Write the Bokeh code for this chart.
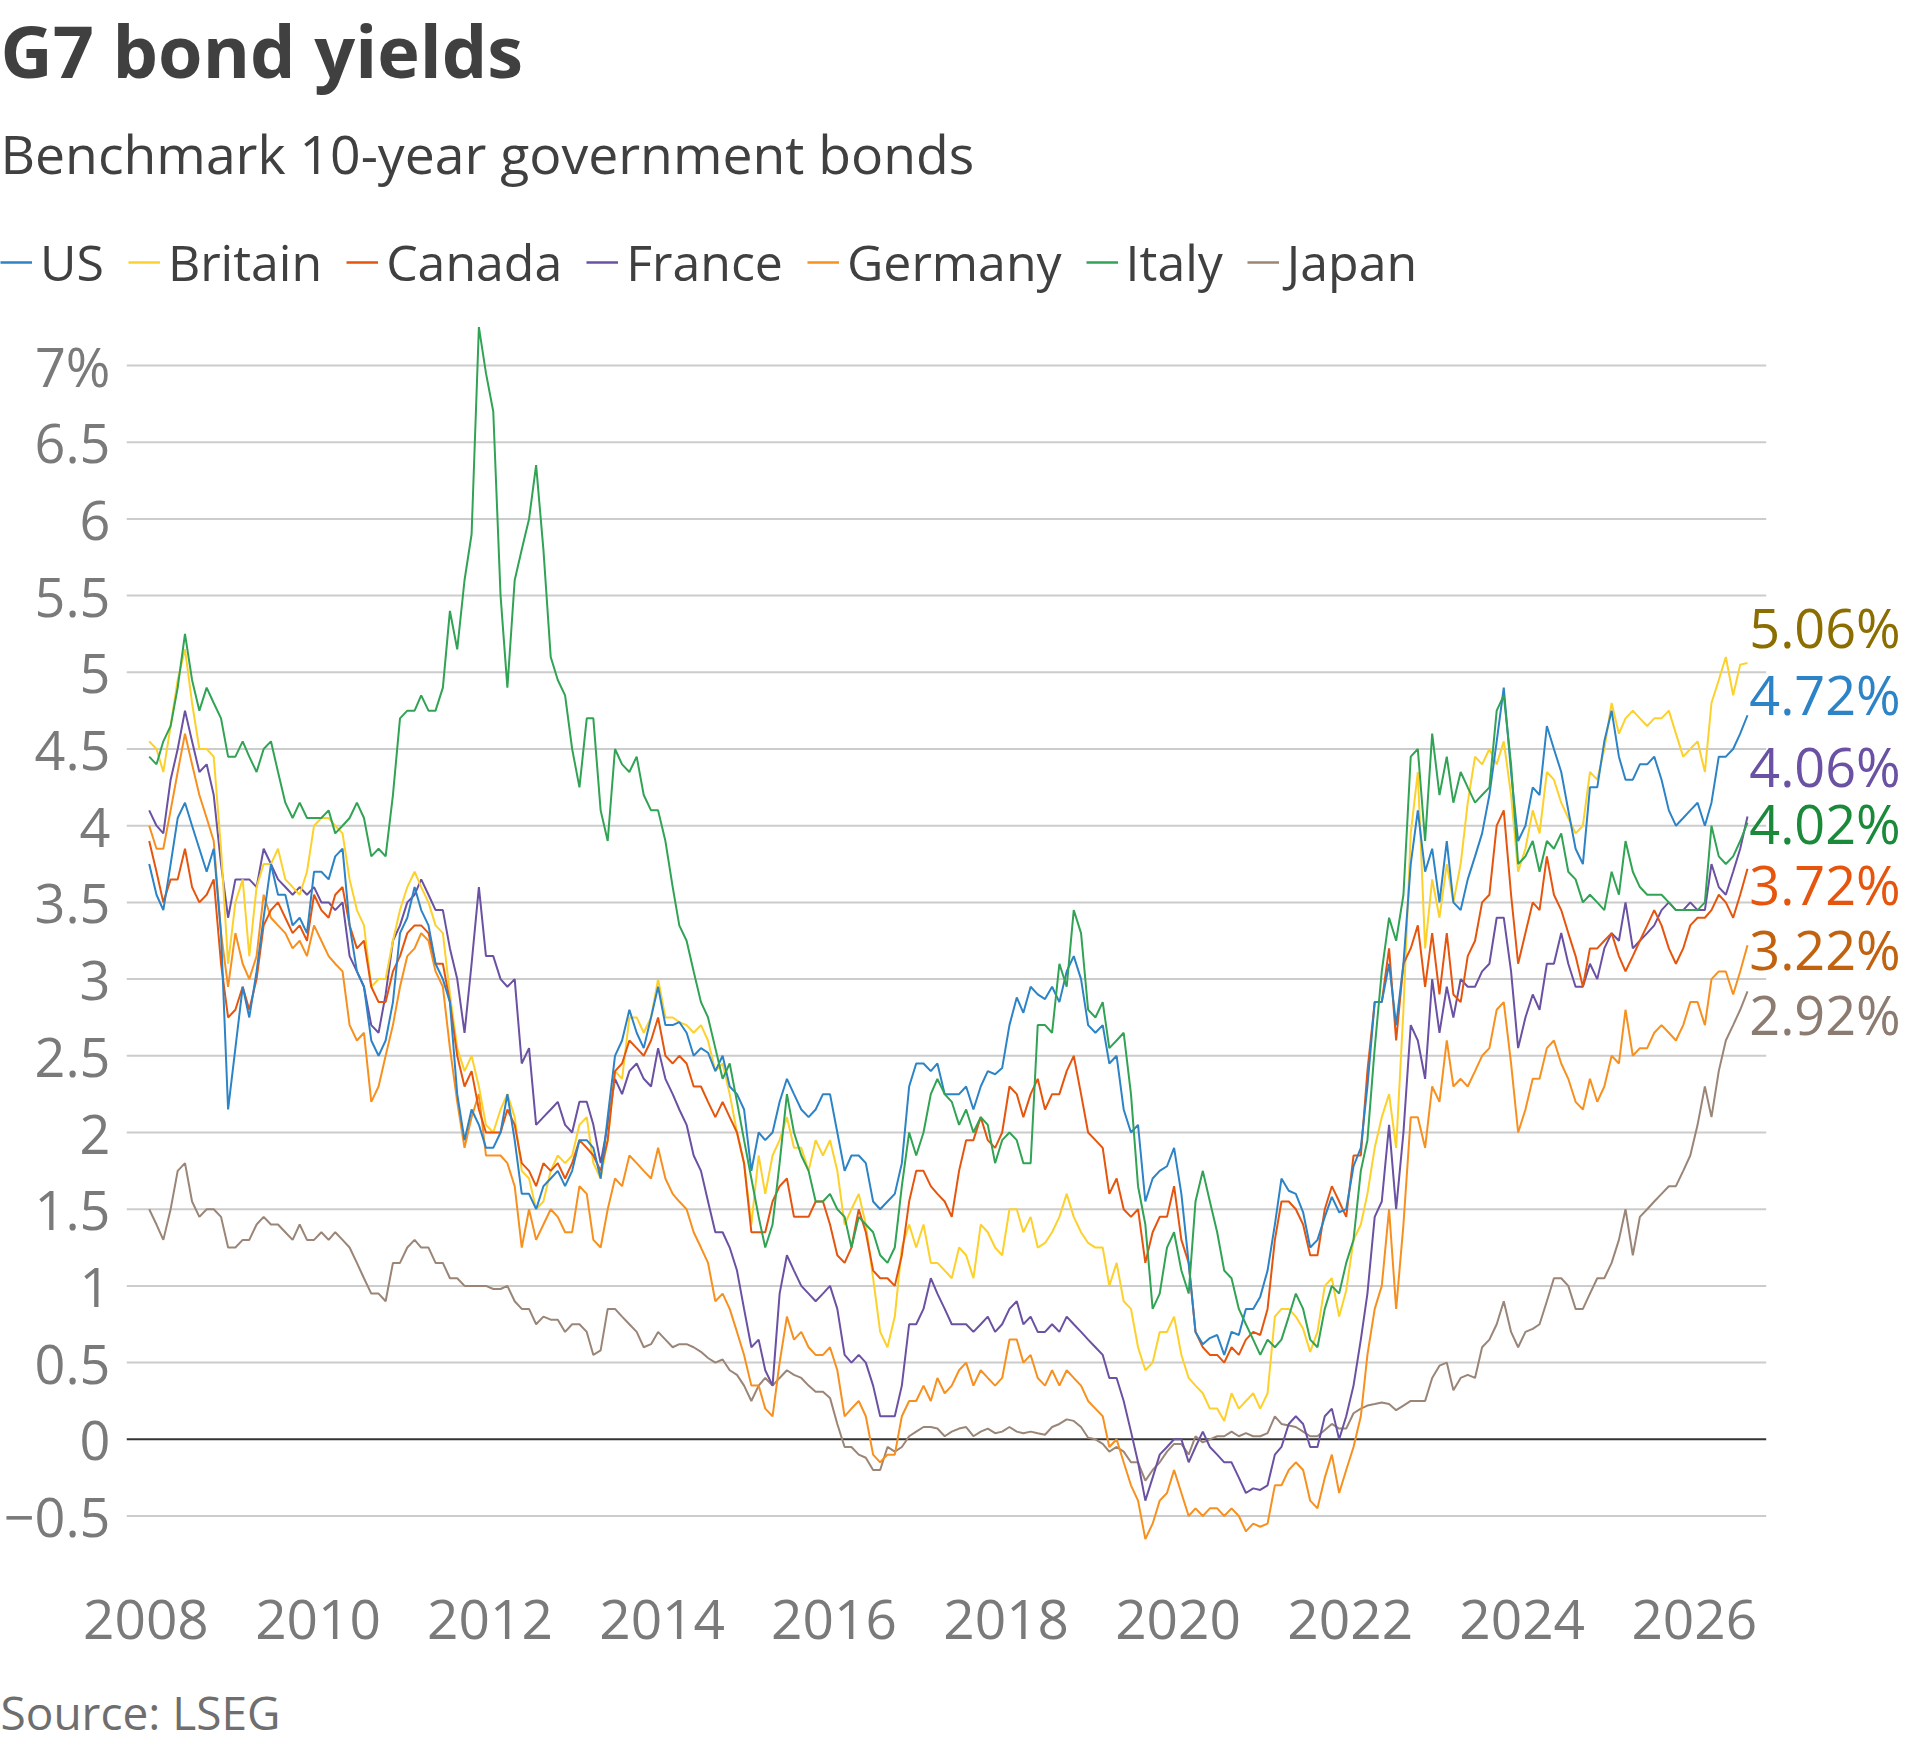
import pandas as pd
from bokeh.plotting import figure
from bokeh.layouts import column
from bokeh.models import (ColumnDataSource, Range1d, FixedTicker, DatetimeTickFormatter,
                          Legend, LegendItem, Label)
from bokeh.embed import file_html
from bokeh.resources import INLINE

# mid-month readings, Jan 2008 .. Aug 2026
months = pd.date_range("2008-01-01", "2026-08-01", freq="MS") + pd.Timedelta(days=14)

us = [
    3.75, 3.55, 3.45, 3.75, 4.05, 4.15, 4.00, 3.85, 3.70, 3.85, 3.30, 2.15,  # 2008
    2.55, 2.95, 2.75, 3.05, 3.40, 3.75, 3.55, 3.55, 3.35, 3.40, 3.30, 3.70,  # 2009
    3.70, 3.65, 3.80, 3.85, 3.35, 3.05, 2.95, 2.60, 2.50, 2.60, 2.85, 3.30,  # 2010
    3.40, 3.60, 3.45, 3.35, 3.10, 3.00, 2.85, 2.25, 1.95, 2.15, 2.05, 1.90,  # 2011
    1.90, 2.00, 2.25, 1.95, 1.60, 1.60, 1.50, 1.65, 1.70, 1.75, 1.65, 1.75,  # 2012
    1.95, 1.95, 1.90, 1.70, 2.10, 2.50, 2.60, 2.80, 2.65, 2.55, 2.75, 2.95,  # 2013
    2.70, 2.70, 2.72, 2.65, 2.50, 2.55, 2.52, 2.40, 2.50, 2.30, 2.25, 2.15,  # 2014
    1.75, 2.00, 1.95, 2.00, 2.20, 2.35, 2.25, 2.15, 2.10, 2.15, 2.25, 2.25,  # 2015
    2.00, 1.75, 1.85, 1.85, 1.80, 1.55, 1.50, 1.55, 1.60, 1.80, 2.30, 2.45,  # 2016
    2.45, 2.40, 2.45, 2.25, 2.25, 2.25, 2.30, 2.15, 2.30, 2.40, 2.38, 2.42,  # 2017
    2.70, 2.88, 2.78, 2.95, 2.90, 2.87, 2.95, 2.85, 3.05, 3.15, 3.00, 2.70,  # 2018
    2.65, 2.70, 2.45, 2.50, 2.15, 2.00, 2.05, 1.55, 1.70, 1.75, 1.78, 1.90,  # 2019
    1.60, 1.15, 0.70, 0.62, 0.66, 0.68, 0.55, 0.70, 0.68, 0.85, 0.85, 0.93,  # 2020
    1.10, 1.40, 1.70, 1.62, 1.60, 1.48, 1.25, 1.30, 1.45, 1.58, 1.48, 1.50,  # 2021
    1.78, 1.90, 2.30, 2.85, 2.85, 3.10, 2.70, 3.10, 3.75, 4.10, 3.70, 3.85,  # 2022
    3.50, 3.90, 3.50, 3.45, 3.65, 3.80, 3.95, 4.20, 4.55, 4.90, 4.35, 3.90,  # 2023
    4.00, 4.25, 4.20, 4.65, 4.50, 4.35, 4.10, 3.85, 3.75, 4.25, 4.25, 4.55,  # 2024
    4.75, 4.45, 4.30, 4.30, 4.40, 4.40, 4.45, 4.30, 4.10, 4.00, 4.05, 4.10,  # 2025
    4.15, 4.00, 4.15, 4.45, 4.45, 4.50, 4.60, 4.72,                          # 2026
]

britain = [
    4.55, 4.50, 4.35, 4.65, 4.95, 5.15, 4.80, 4.50, 4.50, 4.45, 3.85, 3.10,
    3.50, 3.65, 3.15, 3.60, 3.75, 3.75, 3.85, 3.65, 3.60, 3.55, 3.70, 4.00,
    4.05, 4.05, 4.00, 3.95, 3.65, 3.45, 3.35, 2.95, 3.00, 3.00, 3.25, 3.45,
    3.60, 3.70, 3.60, 3.50, 3.35, 3.30, 2.90, 2.55, 2.40, 2.50, 2.30, 2.05,
    2.00, 2.15, 2.25, 2.10, 1.75, 1.70, 1.50, 1.55, 1.75, 1.85, 1.80, 1.85,
    2.05, 2.10, 1.80, 1.70, 1.95, 2.40, 2.35, 2.75, 2.75, 2.65, 2.75, 3.00,
    2.75, 2.75, 2.72, 2.70, 2.65, 2.70, 2.60, 2.40, 2.45, 2.25, 2.00, 1.80,
    1.40, 1.85, 1.60, 1.85, 1.95, 2.10, 1.90, 1.90, 1.75, 1.95, 1.85, 1.95,
    1.75, 1.40, 1.50, 1.60, 1.40, 1.05, 0.70, 0.60, 0.80, 1.25, 1.40, 1.25,
    1.40, 1.15, 1.15, 1.10, 1.05, 1.25, 1.20, 1.05, 1.40, 1.35, 1.25, 1.20,
    1.50, 1.50, 1.35, 1.45, 1.25, 1.28, 1.35, 1.45, 1.60, 1.45, 1.35, 1.28,
    1.25, 1.25, 1.00, 1.15, 0.90, 0.85, 0.60, 0.45, 0.50, 0.70, 0.70, 0.80,
    0.55, 0.40, 0.35, 0.30, 0.20, 0.20, 0.12, 0.30, 0.20, 0.25, 0.30, 0.20,
    0.30, 0.80, 0.85, 0.85, 0.80, 0.72, 0.57, 0.70, 1.00, 1.05, 0.80, 0.97,
    1.30, 1.40, 1.60, 1.90, 2.10, 2.25, 1.90, 2.80, 3.95, 4.35, 3.20, 3.65,
    3.40, 3.75, 3.50, 3.75, 4.15, 4.45, 4.40, 4.50, 4.40, 4.55, 4.20, 3.70,
    3.85, 4.10, 3.95, 4.35, 4.30, 4.15, 4.05, 3.95, 4.00, 4.35, 4.30, 4.50,
    4.80, 4.60, 4.70, 4.75, 4.70, 4.65, 4.70, 4.70, 4.75, 4.60, 4.45, 4.50,
    4.55, 4.35, 4.80, 4.95, 5.10, 4.85, 5.05, 5.06,
]

canada = [
    3.90, 3.70, 3.50, 3.65, 3.65, 3.85, 3.60, 3.50, 3.55, 3.65, 3.10, 2.75,
    2.80, 2.95, 2.80, 3.00, 3.35, 3.45, 3.50, 3.40, 3.30, 3.35, 3.25, 3.55,
    3.45, 3.40, 3.55, 3.60, 3.35, 3.20, 3.25, 2.95, 2.85, 2.85, 3.05, 3.15,
    3.30, 3.35, 3.35, 3.30, 3.10, 3.10, 2.85, 2.50, 2.30, 2.40, 2.15, 2.00,
    2.00, 2.00, 2.15, 2.05, 1.80, 1.75, 1.65, 1.80, 1.75, 1.80, 1.70, 1.80,
    1.95, 1.90, 1.85, 1.75, 1.95, 2.40, 2.45, 2.60, 2.55, 2.50, 2.60, 2.75,
    2.50, 2.45, 2.50, 2.45, 2.30, 2.30, 2.20, 2.10, 2.20, 2.10, 2.00, 1.80,
    1.35, 1.35, 1.35, 1.55, 1.65, 1.70, 1.45, 1.45, 1.45, 1.55, 1.55, 1.40,
    1.20, 1.15, 1.25, 1.50, 1.35, 1.10, 1.05, 1.05, 1.00, 1.20, 1.55, 1.75,
    1.75, 1.65, 1.60, 1.55, 1.45, 1.75, 1.95, 1.95, 2.10, 1.95, 1.90, 2.00,
    2.30, 2.25, 2.10, 2.25, 2.35, 2.15, 2.25, 2.25, 2.40, 2.50, 2.25, 2.00,
    1.95, 1.90, 1.60, 1.70, 1.50, 1.45, 1.50, 1.15, 1.35, 1.45, 1.45, 1.65,
    1.30, 1.15, 0.70, 0.60, 0.55, 0.55, 0.50, 0.60, 0.55, 0.65, 0.70, 0.68,
    0.85, 1.30, 1.55, 1.55, 1.50, 1.40, 1.20, 1.20, 1.50, 1.65, 1.55, 1.45,
    1.85, 1.85, 2.40, 2.85, 2.85, 3.20, 2.60, 3.10, 3.20, 3.35, 2.95, 3.30,
    2.90, 3.30, 2.90, 2.85, 3.15, 3.25, 3.50, 3.55, 4.00, 4.10, 3.55, 3.10,
    3.30, 3.50, 3.45, 3.80, 3.55, 3.45, 3.30, 3.15, 2.95, 3.20, 3.20, 3.25,
    3.30, 3.15, 3.05, 3.15, 3.25, 3.35, 3.45, 3.35, 3.20, 3.10, 3.20, 3.35,
    3.40, 3.40, 3.45, 3.55, 3.50, 3.40, 3.55, 3.72,
]

france = [
    4.10, 4.00, 3.95, 4.30, 4.50, 4.75, 4.55, 4.35, 4.40, 4.20, 3.75, 3.40,
    3.65, 3.65, 3.65, 3.60, 3.85, 3.75, 3.65, 3.60, 3.55, 3.60, 3.55, 3.60,
    3.50, 3.50, 3.45, 3.50, 3.15, 3.05, 2.95, 2.70, 2.65, 2.90, 3.25, 3.35,
    3.50, 3.55, 3.65, 3.55, 3.45, 3.45, 3.20, 3.00, 2.65, 3.10, 3.60, 3.15,
    3.15, 3.00, 2.95, 3.00, 2.45, 2.55, 2.05, 2.10, 2.15, 2.20, 2.05, 2.00,
    2.20, 2.20, 2.05, 1.80, 2.05, 2.35, 2.25, 2.40, 2.45, 2.35, 2.30, 2.55,
    2.35, 2.25, 2.15, 2.05, 1.85, 1.75, 1.55, 1.35, 1.35, 1.25, 1.10, 0.85,
    0.60, 0.65, 0.45, 0.35, 0.95, 1.20, 1.10, 1.00, 0.95, 0.90, 0.95, 1.00,
    0.85, 0.55, 0.50, 0.55, 0.50, 0.35, 0.15, 0.15, 0.15, 0.35, 0.75, 0.75,
    0.85, 1.05, 0.95, 0.85, 0.75, 0.75, 0.75, 0.70, 0.75, 0.80, 0.70, 0.75,
    0.85, 0.90, 0.75, 0.80, 0.70, 0.70, 0.75, 0.70, 0.80, 0.75, 0.70, 0.65,
    0.60, 0.55, 0.40, 0.40, 0.25, 0.05, -0.15, -0.40, -0.25, -0.10, -0.05, 0.00,
    0.00, -0.15, -0.05, 0.05, -0.05, -0.10, -0.15, -0.15, -0.25, -0.35, -0.32, -0.33,
    -0.30, -0.10, -0.05, 0.10, 0.15, 0.10, -0.05, -0.05, 0.15, 0.20, 0.00, 0.15,
    0.35, 0.65, 0.95, 1.45, 1.55, 2.05, 1.50, 2.00, 2.70, 2.60, 2.35, 3.00,
    2.65, 2.95, 2.75, 3.00, 2.95, 2.95, 3.05, 3.10, 3.40, 3.40, 3.05, 2.55,
    2.75, 2.90, 2.80, 3.10, 3.10, 3.30, 3.10, 2.95, 2.95, 3.10, 3.00, 3.20,
    3.30, 3.25, 3.50, 3.20, 3.25, 3.30, 3.35, 3.45, 3.50, 3.45, 3.45, 3.50,
    3.45, 3.45, 3.75, 3.60, 3.55, 3.70, 3.85, 4.06,
]

germany = [
    4.00, 3.85, 3.85, 4.10, 4.35, 4.60, 4.40, 4.20, 4.05, 3.90, 3.30, 2.95,
    3.30, 3.10, 3.00, 3.15, 3.55, 3.40, 3.35, 3.30, 3.20, 3.25, 3.15, 3.35,
    3.25, 3.15, 3.10, 3.05, 2.70, 2.60, 2.65, 2.20, 2.30, 2.50, 2.70, 2.95,
    3.15, 3.20, 3.30, 3.25, 3.05, 2.95, 2.55, 2.20, 1.90, 2.10, 2.25, 1.85,
    1.85, 1.85, 1.80, 1.65, 1.25, 1.50, 1.30, 1.40, 1.50, 1.45, 1.35, 1.35,
    1.65, 1.60, 1.30, 1.25, 1.50, 1.70, 1.65, 1.85, 1.80, 1.75, 1.70, 1.90,
    1.70, 1.60, 1.55, 1.50, 1.35, 1.25, 1.15, 0.90, 0.95, 0.85, 0.70, 0.55,
    0.35, 0.35, 0.20, 0.15, 0.50, 0.80, 0.65, 0.70, 0.60, 0.55, 0.55, 0.60,
    0.45, 0.15, 0.20, 0.25, 0.15, -0.10, -0.15, -0.10, -0.10, 0.15, 0.25, 0.25,
    0.35, 0.25, 0.40, 0.30, 0.35, 0.45, 0.50, 0.35, 0.45, 0.40, 0.35, 0.40,
    0.65, 0.65, 0.50, 0.55, 0.40, 0.35, 0.45, 0.35, 0.45, 0.40, 0.35, 0.25,
    0.20, 0.15, -0.05, 0.00, -0.15, -0.30, -0.40, -0.65, -0.55, -0.40, -0.35, -0.20,
    -0.35, -0.50, -0.45, -0.50, -0.45, -0.45, -0.50, -0.45, -0.50, -0.60, -0.55, -0.57,
    -0.55, -0.30, -0.30, -0.20, -0.15, -0.20, -0.40, -0.45, -0.25, -0.10, -0.35, -0.20,
    -0.05, 0.15, 0.55, 0.85, 1.00, 1.50, 0.85, 1.40, 2.10, 2.10, 1.90, 2.30,
    2.20, 2.60, 2.30, 2.35, 2.30, 2.40, 2.50, 2.55, 2.80, 2.85, 2.45, 2.00,
    2.15, 2.35, 2.35, 2.55, 2.60, 2.45, 2.35, 2.20, 2.15, 2.35, 2.20, 2.30,
    2.50, 2.45, 2.80, 2.50, 2.55, 2.55, 2.65, 2.70, 2.65, 2.60, 2.70, 2.85,
    2.85, 2.70, 3.00, 3.05, 3.05, 2.90, 3.05, 3.22,
]

italy = [
    4.45, 4.40, 4.55, 4.65, 4.90, 5.25, 4.95, 4.75, 4.90, 4.80, 4.70, 4.45,
    4.45, 4.55, 4.45, 4.35, 4.50, 4.55, 4.35, 4.15, 4.05, 4.15, 4.05, 4.05,
    4.05, 4.10, 3.95, 4.00, 4.05, 4.15, 4.05, 3.80, 3.85, 3.80, 4.20, 4.70,
    4.75, 4.75, 4.85, 4.75, 4.75, 4.90, 5.40, 5.15, 5.60, 5.90, 7.25, 6.95,
    6.70, 5.50, 4.90, 5.60, 5.80, 6.00, 6.35, 5.80, 5.10, 4.95, 4.85, 4.50,
    4.25, 4.70, 4.70, 4.10, 3.90, 4.50, 4.40, 4.35, 4.45, 4.20, 4.10, 4.10,
    3.90, 3.60, 3.35, 3.25, 3.05, 2.85, 2.75, 2.55, 2.35, 2.45, 2.20, 1.95,
    1.70, 1.45, 1.25, 1.40, 1.80, 2.25, 2.00, 1.85, 1.75, 1.55, 1.55, 1.60,
    1.50, 1.45, 1.25, 1.45, 1.40, 1.35, 1.20, 1.15, 1.25, 1.65, 2.00, 1.85,
    2.00, 2.25, 2.35, 2.25, 2.20, 2.05, 2.15, 2.00, 2.10, 2.05, 1.80, 1.95,
    2.00, 1.95, 1.80, 1.80, 2.70, 2.70, 2.65, 3.10, 2.95, 3.45, 3.30, 2.80,
    2.75, 2.85, 2.55, 2.60, 2.65, 2.25, 1.65, 1.40, 0.85, 0.95, 1.25, 1.35,
    1.10, 0.95, 1.55, 1.75, 1.55, 1.35, 1.10, 1.05, 0.85, 0.75, 0.65, 0.55,
    0.65, 0.60, 0.65, 0.80, 0.95, 0.85, 0.65, 0.60, 0.85, 1.00, 0.95, 1.15,
    1.30, 1.75, 1.95, 2.55, 3.05, 3.40, 3.25, 3.55, 4.45, 4.50, 3.90, 4.60,
    4.20, 4.45, 4.15, 4.35, 4.25, 4.15, 4.20, 4.25, 4.75, 4.85, 4.40, 3.75,
    3.80, 3.90, 3.70, 3.90, 3.85, 3.95, 3.70, 3.65, 3.50, 3.55, 3.50, 3.45,
    3.70, 3.55, 3.90, 3.70, 3.60, 3.55, 3.55, 3.55, 3.50, 3.45, 3.45, 3.45,
    3.45, 3.50, 4.00, 3.80, 3.75, 3.80, 3.90, 4.02,
]

japan = [
    1.50, 1.40, 1.30, 1.50, 1.75, 1.80, 1.55, 1.45, 1.50, 1.50, 1.45, 1.25,
    1.25, 1.30, 1.30, 1.40, 1.45, 1.40, 1.40, 1.35, 1.30, 1.40, 1.30, 1.30,
    1.35, 1.30, 1.35, 1.30, 1.25, 1.15, 1.05, 0.95, 0.95, 0.90, 1.15, 1.15,
    1.25, 1.30, 1.25, 1.25, 1.15, 1.15, 1.05, 1.05, 1.00, 1.00, 1.00, 1.00,
    0.98, 0.98, 1.00, 0.90, 0.85, 0.85, 0.75, 0.80, 0.78, 0.78, 0.70, 0.75,
    0.75, 0.70, 0.55, 0.58, 0.85, 0.85, 0.80, 0.75, 0.70, 0.60, 0.62, 0.70,
    0.65, 0.60, 0.62, 0.62, 0.60, 0.57, 0.53, 0.50, 0.52, 0.45, 0.42, 0.35,
    0.25, 0.35, 0.40, 0.35, 0.40, 0.45, 0.42, 0.40, 0.35, 0.31, 0.31, 0.27,
    0.10, -0.05, -0.05, -0.10, -0.12, -0.20, -0.20, -0.05, -0.08, -0.05, 0.02, 0.05,
    0.08, 0.08, 0.07, 0.02, 0.05, 0.07, 0.08, 0.02, 0.05, 0.07, 0.04, 0.05,
    0.08, 0.05, 0.04, 0.05, 0.04, 0.03, 0.08, 0.10, 0.13, 0.12, 0.08, 0.01,
    0.00, -0.03, -0.08, -0.05, -0.08, -0.15, -0.15, -0.27, -0.20, -0.15, -0.08, -0.03,
    -0.03, -0.10, 0.02, -0.02, 0.00, 0.02, 0.02, 0.05, 0.02, 0.04, 0.02, 0.02,
    0.04, 0.15, 0.10, 0.09, 0.08, 0.05, 0.02, 0.02, 0.06, 0.10, 0.07, 0.07,
    0.17, 0.20, 0.22, 0.23, 0.24, 0.23, 0.19, 0.22, 0.25, 0.25, 0.25, 0.40,
    0.48, 0.50, 0.32, 0.40, 0.42, 0.40, 0.60, 0.65, 0.75, 0.90, 0.70, 0.60,
    0.70, 0.72, 0.75, 0.90, 1.05, 1.05, 1.00, 0.85, 0.85, 0.95, 1.05, 1.05,
    1.15, 1.30, 1.50, 1.20, 1.45, 1.50, 1.55, 1.60, 1.65, 1.65, 1.75, 1.85,
    2.05, 2.30, 2.10, 2.40, 2.60, 2.70, 2.80, 2.92,
]

series_names = ["US", "Britain", "Canada", "France", "Germany", "Italy", "Japan"]
series_values = [us, britain, canada, france, germany, italy, japan]
line_colors = ["#2c83c6", "#fdd12b", "#e6550d", "#6a51a3", "#f7901e", "#31a354", "#9a8577"]
end_label_colors = ["#2c83c6", "#8c6d00", "#e6550d", "#6a51a3", "#c0620f", "#1a8a3a", "#8b7b70"]
draw_order = ["Japan", "Germany", "France", "Britain", "Canada", "US", "Italy"]

y_ticks = [-0.5, 0, 0.5, 1, 1.5, 2, 2.5, 3, 3.5, 4, 4.5, 5, 5.5, 6, 6.5, 7]
y_tick_labels = ["\u22120.5", "0", "0.5", "1", "1.5", "2", "2.5", "3", "3.5",
                 "4", "4.5", "5", "5.5", "6", "6.5", "7%"]
year_ticks = list(range(2008, 2027, 2))

# page geometry (pixels)
W = 1904
HEAD_H = 300                 # header strip: title, subtitle, legend
FRAME_L, FRAME_B = 117, 1585 # chart frame left edge / bottom edge on the page
MAIN_B = 85                  # room under the frame for the year labels
FOOT_H = 72
X2008, PX_YEAR = 136.5, 86.45
Y0, PX_PCT = 1438.8, 153.4


def year_at(px):
    return 2008 + (px - X2008) / PX_YEAR


def to_ms(year):
    return (pd.Timestamp("2008-01-01") + pd.Timedelta(days=365.25 * (year - 2008))).value / 1e6


def pct_at(py):
    return (Y0 - py) / PX_PCT


def text_strip(height):
    f = figure(width=W, height=height, x_range=Range1d(0, W), y_range=Range1d(height, 0),
               x_axis_location=None, y_axis_location=None, min_border=0,
               output_backend="svg", toolbar_location=None, frame_align=False)
    f.outline_line_color = None
    f.grid.visible = False
    return f


# header
head = text_strip(HEAD_H)
head.add_layout(Label(x=0, y=49, text="G7 bond yields", text_font="Open Sans",
                      text_font_style="bold", text_font_size="72px", text_color="#404040",
                      text_baseline="middle"))
head.add_layout(Label(x=0, y=153, text="Benchmark 10-year government bonds",
                      text_font="Open Sans", text_font_size="53.5px", text_color="#404040",
                      text_baseline="middle"))
# key swatches: line renderers parked above the strip, only their legend glyphs show
key_lines = [head.line(x=[-20, -10], y=[-20, -20], line_color=c, line_width=2.5) for c in line_colors]
legend = Legend(items=[LegendItem(label=n, renderers=[r]) for n, r in zip(series_names, key_lines)],
                orientation="horizontal", location=(0, 4),
                glyph_width=32, glyph_height=20, label_standoff=8, spacing=24,
                padding=0, margin=0, border_line_color=None, background_fill_alpha=0,
                label_text_font="Open Sans", label_text_font_size="50px",
                label_text_color="#404040")
head.add_layout(legend)

# chart
p = figure(width=W, height=FRAME_B - HEAD_H + MAIN_B, x_axis_type="datetime",
           x_range=Range1d(to_ms(year_at(FRAME_L)), to_ms(year_at(W))),
           y_range=Range1d(pct_at(FRAME_B), pct_at(HEAD_H)),
           output_backend="svg", toolbar_location=None, frame_align=False,
           min_border=0, min_border_left=FRAME_L, min_border_bottom=MAIN_B)
p.outline_line_color = None
p.grid.visible = False

# gridlines stop short of the end labels
grid_x0, grid_x1 = to_ms(year_at(FRAME_L)), to_ms(year_at(1765))
grid_y = [v for v in y_ticks if v != 0]
p.segment(x0=[grid_x0] * len(grid_y), x1=[grid_x1] * len(grid_y), y0=grid_y, y1=grid_y,
          line_color="#cccccc", line_width=2)
p.segment(x0=[grid_x0], x1=[grid_x1], y0=[0], y1=[0], line_color="#333333", line_width=2)

data = {"date": months}
for name, vals in zip(series_names, series_values):
    data[name] = vals
src = ColumnDataSource(data)

for name in draw_order:
    color = line_colors[series_names.index(name)]
    p.line("date", name, source=src, line_color=color, line_width=2)

p.yaxis.ticker = FixedTicker(ticks=y_ticks)
p.yaxis.major_label_overrides = {(int(v) if v == int(v) else v): t for v, t in zip(y_ticks, y_tick_labels)}
p.xaxis.ticker = FixedTicker(ticks=[pd.Timestamp(f"{y}-01-01").value / 1e6 for y in year_ticks])
p.xaxis.formatter = DatetimeTickFormatter(years="%Y", months="%Y", days="%Y", hours="%Y",
                                          hourmin="%Y", minutes="%Y", minsec="%Y",
                                          seconds="%Y", milliseconds="%Y", microseconds="%Y")
for ax in (p.xaxis, p.yaxis):
    ax.axis_line_color = None
    ax.major_tick_line_color = None
    ax.minor_tick_line_color = None
    ax.major_label_text_font = "Open Sans"
    ax.major_label_text_color = "#7a7a7a"
p.yaxis.major_label_text_font_size = "54px"
p.yaxis.major_label_standoff = 10
p.xaxis.major_label_text_font_size = "55px"
p.xaxis.major_label_standoff = 8

# latest values at the right edge
end_label_y = [693, 626, 883, 765, 948, 822, 1013]
for name, vals, color, py in zip(series_names, series_values, end_label_colors, end_label_y):
    p.add_layout(Label(x=to_ms(year_at(1748)), y=pct_at(py), text=f"{vals[-1]:.2f}%",
                       text_font="Open Sans", text_font_size="54px", text_color=color,
                       text_baseline="middle", text_align="left"))

# footer
foot = text_strip(FOOT_H)
foot.add_layout(Label(x=0, y=41, text="Source: LSEG", text_font="Open Sans",
                      text_font_size="46px", text_color="#6e6e6e", text_baseline="middle"))

open("out.html", "w").write(file_html(column(head, p, foot), INLINE))
